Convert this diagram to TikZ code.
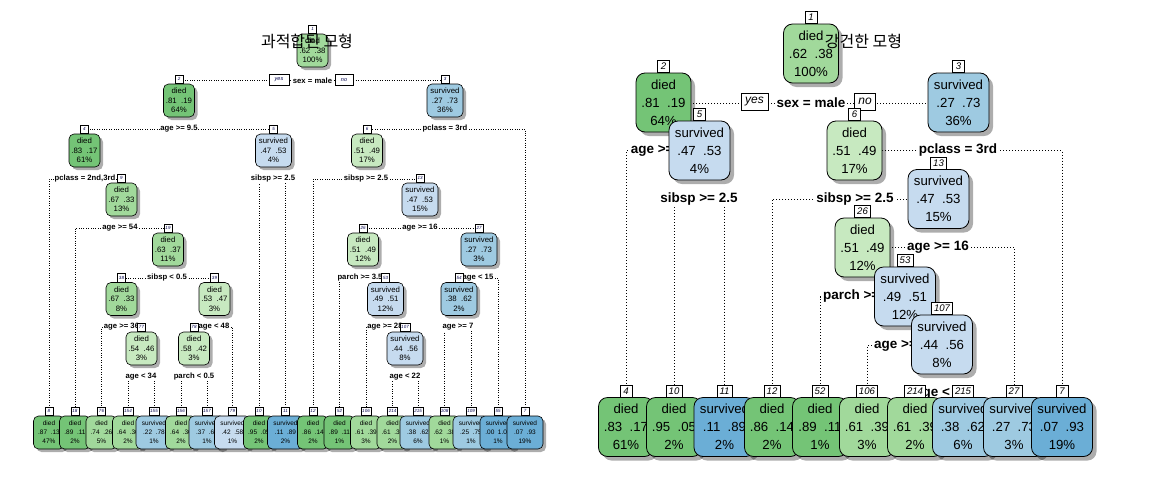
\documentclass[tikz,border=0pt]{standalone}
\usepackage{fontspec}
\setmainfont{Liberation Sans}
\newfontfamily\krfont{Noto Sans CJK KR}
\usetikzlibrary{shadows}
\definecolor{Gd}{HTML}{74C476}
\definecolor{Gm}{HTML}{A1D99B}
\definecolor{Gl}{HTML}{C7E9C0}
\definecolor{Bl}{HTML}{C6DBEF}
\definecolor{Bm}{HTML}{9ECAE1}
\definecolor{Bd}{HTML}{6BAED6}
\pgfdeclarelayer{bg}
\pgfdeclarelayer{lines}
\pgfdeclarelayer{labels}
\pgfsetlayers{bg,lines,labels,main}
\tikzset{
  Rbox/.style={draw=black, line width=0.8pt, rounded corners=9pt, minimum height=59pt, inner sep=0pt, align=center,
    font=\fontsize{13.2}{18}\selectfont,
    drop shadow={shadow xshift=4pt, shadow yshift=-4pt, fill=black, opacity=0.32}},
  Rd/.style={minimum width=55pt},
  Rs/.style={minimum width=61pt},
  Rtag/.style={draw=black, fill=white, line width=0.6pt, inner xsep=2.5pt, inner ysep=0pt, minimum width=12pt, minimum height=12pt, font=\fontsize{9.6}{10}\selectfont\itshape},
  Rlab/.style={fill=white, inner xsep=1pt, inner ysep=1pt, font=\fontsize{13.5}{14}\selectfont\bfseries},
  Ryn/.style={draw=black, fill=white, line width=0.6pt, inner xsep=4pt, inner ysep=0pt, minimum height=17pt, font=\fontsize{12}{12}\selectfont\itshape},
  Rbr/.style={line width=0.9pt, dash pattern=on 0.9pt off 2.1pt},
  Lbox/.style={draw=black, line width=0.6pt, rounded corners=5pt, minimum height=33pt, inner sep=0pt, align=center,
    font=\fontsize{7.8}{9.5}\selectfont,
    drop shadow={shadow xshift=3pt, shadow yshift=-3pt, fill=black, opacity=0.32}},
  Lleaf/.style={Lbox, font=\fontsize{6.5}{9}\selectfont},
  Ld/.style={minimum width=31pt},
  Ls/.style={minimum width=36pt},
  Ltag/.style={draw=black, fill=white, line width=0.5pt, inner xsep=1pt, inner ysep=0pt, minimum width=8pt, minimum height=8.5pt, font=\fontsize{4.5}{5}\selectfont\itshape, text=black!70!blue},
  Llab/.style={fill=white, inner xsep=0.6pt, inner ysep=0.6pt, font=\fontsize{7.7}{8}\selectfont\bfseries},
  Lyn/.style={draw=black, fill=white, line width=0.5pt, inner sep=0pt, minimum height=11pt, font=\fontsize{5.5}{6}\selectfont\itshape, text=black!70!blue},
  Lbr/.style={line width=0.6pt, dash pattern=on 0.6pt off 1.8pt},
  ttl/.style={font=\krfont\fontsize{16}{16}\selectfont}
}
\newcommand\RN[5]{\node[Rbox,#4] (R#1) at (#2,#3) {#5};
  \node[Rtag,anchor=south] (Rt#1) at (R#1.north) {#1};}
\newcommand\LN[5]{\node[Lbox,#4] (L#1) at (#2,#3) {#5};
  \node[Ltag,anchor=south] (Lt#1) at (L#1.north) {#1};}
\newcommand\LF[5]{\node[Lleaf,#4] (L#1) at (#2,#3) {#5};
  \node[Ltag,anchor=south] (Lt#1) at (L#1.north) {#1};}
\newcommand\RL[4]{\node[Rlab] (Rs#1) at (#2,#3) {#4};}
\newcommand\LL[4]{\node[Llab] (Ls#1) at (#2,#3) {#4};}
\begin{document}
\begin{tikzpicture}[x=1pt,y=-1pt]
\begin{pgfonlayer}{bg}
\fill[white] (0,0) rectangle (1152,480);
\end{pgfonlayer}
\useasboundingbox (0,0) rectangle (1152,480);

% ================= LEFT TREE =================
\LN{1}{312.5}{50.5}{Ld,fill=Gm}{died\\.62\ \ .38\\100\%}
\LN{2}{179}{100.5}{Ld,fill=Gd}{died\\.81\ \ .19\\64\%}
\LN{3}{445}{100.5}{Ls,fill=Bm}{survived\\.27\ \ .73\\36\%}
\LN{4}{84.5}{150.5}{Ld,fill=Gd}{died\\.83\ \ .17\\61\%}
\LN{5}{273.5}{150.5}{Ls,fill=Bl}{survived\\.47\ \ .53\\4\%}
\LN{6}{367}{150.5}{Ld,fill=Gl}{died\\.51\ \ .49\\17\%}
\LN{9}{121.5}{199.5}{Ld,fill=Gm}{died\\.67\ \ .33\\13\%}
\LN{13}{420}{199.5}{Ls,fill=Bl}{survived\\.47\ \ .53\\15\%}
\LN{19}{168}{249.5}{Ld,fill=Gm}{died\\.63\ \ .37\\11\%}
\LN{26}{363}{249.5}{Ld,fill=Gl}{died\\.51\ \ .49\\12\%}
\LN{27}{479}{249.5}{Ls,fill=Bm}{survived\\.27\ \ .73\\3\%}
\LN{38}{121.5}{299}{Ld,fill=Gm}{died\\.67\ \ .33\\8\%}
\LN{39}{214.5}{299}{Ld,fill=Gl}{died\\.53\ \ .47\\3\%}
\LN{53}{385.5}{299}{Ls,fill=Bl}{survived\\.49\ \ .51\\12\%}
\LN{54}{459}{299}{Ls,fill=Bm}{survived\\.38\ \ .62\\2\%}
\LN{77}{141.5}{348.5}{Ld,fill=Gl}{died\\.54\ \ .46\\3\%}
\LN{78}{194}{348.5}{Ld,fill=Gl}{died\\.58\ \ .42\\3\%}
\LN{107}{405}{348.5}{Ls,fill=Bl}{survived\\.44\ \ .56\\8\%}
% leaves
\LF{8}{49}{432.5}{Ld,fill=Gd}{died\\.87\ \ .13\\47\%}
\LF{18}{75}{432.5}{Ld,fill=Gd}{died\\.89\ \ .11\\2\%}
\LF{76}{101.5}{432.5}{Ld,fill=Gm}{died\\.74\ \ .26\\5\%}
\LF{154}{128}{432.5}{Ld,fill=Gm}{died\\.64\ \ .36\\2\%}
\LF{155}{154}{432.5}{Ls,fill=Bm}{survived\\.22\ \ .78\\1\%}
\LF{156}{181}{432.5}{Ld,fill=Gm}{died\\.64\ \ .36\\2\%}
\LF{157}{207}{432.5}{Ls,fill=Bm}{survived\\.37\ \ .63\\1\%}
\LF{79}{232.5}{432.5}{Ls,fill=Bl}{survived\\.42\ \ .58\\1\%}
\LF{10}{259}{432.5}{Ld,fill=Gd}{died\\.95\ \ .05\\2\%}
\LF{11}{285.5}{432.5}{Ls,fill=Bd}{survived\\.11\ \ .89\\2\%}
\LF{12}{313}{432.5}{Ld,fill=Gd}{died\\.86\ \ .14\\2\%}
\LF{52}{339.5}{432.5}{Ld,fill=Gd}{died\\.89\ \ .11\\1\%}
\LF{106}{366}{432.5}{Ld,fill=Gm}{died\\.61\ \ .39\\3\%}
\LF{214}{392.5}{432.5}{Ld,fill=Gm}{died\\.61\ \ .39\\2\%}
\LF{215}{418}{432.5}{Ls,fill=Bm}{survived\\.38\ \ .62\\6\%}
\LF{108}{444.5}{432.5}{Ld,fill=Gm}{died\\.62\ \ .38\\1\%}
\LF{109}{471}{432.5}{Ls,fill=Bm}{survived\\.25\ \ .75\\1\%}
\LF{55}{498}{432.5}{Ls,fill=Bd}{survived\\.00\ \ 1.00\\1\%}
\LF{7}{525}{432.5}{Ls,fill=Bd}{survived\\.07\ \ .93\\19\%}

\begin{pgfonlayer}{labels}
\LL{1}{312.5}{80.7}{sex = male}
\node[Lyn,minimum width=20pt] (Lyes) at (279,80) {yes};
\node[Lyn,minimum width=18pt] (Lno) at (344,80) {no};
\LL{2}{179}{129}{age >= 9.5}
\LL{3}{445}{129}{pclass = 3rd}
\LL{4}{85}{179}{pclass = 2nd,3rd}
\LL{5}{273}{179}{sibsp >= 2.5}
\LL{6}{366}{179}{sibsp >= 2.5}
\LL{9}{120}{228}{age >= 54}
\LL{13}{420}{228}{age >= 16}
\LL{19}{167}{278}{sibsp < 0.5}
\LL{26}{360}{278}{parch >= 3.5}
\LL{27}{478}{278}{age < 15}
\LL{38}{121.5}{327}{age >= 36}
\LL{39}{214}{327}{age < 48}
\LL{53}{385}{327}{age >= 28}
\LL{54}{458}{327}{age >= 7}
\LL{77}{141}{377}{age < 34}
\LL{78}{194}{377}{parch < 0.5}
\LL{107}{405}{377}{age < 22}
\end{pgfonlayer}

\begin{pgfonlayer}{lines}
\draw[Lbr] (Ls1.center) -| (L2.center);  \draw[Lbr] (Ls1.center) -| (L3.center);
\draw[Lbr] (Ls2.center) -| (L4.center);  \draw[Lbr] (Ls2.center) -| (L5.center);
\draw[Lbr] (Ls3.center) -| (L6.center);  \draw[Lbr] (Ls3.center) -| (L7.center);
\draw[Lbr] (Ls4.center) -| (L8.center);  \draw[Lbr] (Ls4.center) -| (L9.center);
\draw[Lbr] (Ls5.center) -| (L10.center); \draw[Lbr] (Ls5.center) -| (L11.center);
\draw[Lbr] (Ls6.center) -| (L12.center); \draw[Lbr] (Ls6.center) -| (L13.center);
\draw[Lbr] (Ls9.center) -| (L18.center); \draw[Lbr] (Ls9.center) -| (L19.center);
\draw[Lbr] (Ls13.center) -| (L26.center); \draw[Lbr] (Ls13.center) -| (L27.center);
\draw[Lbr] (Ls19.center) -| (L38.center); \draw[Lbr] (Ls19.center) -| (L39.center);
\draw[Lbr] (Ls26.center) -| (L52.center); \draw[Lbr] (Ls26.center) -| (L53.center);
\draw[Lbr] (Ls27.center) -| (L54.center); \draw[Lbr] (Ls27.center) -| (L55.center);
\draw[Lbr] (Ls38.center) -| (L76.center); \draw[Lbr] (Ls38.center) -| (L77.center);
\draw[Lbr] (Ls39.center) -| (L78.center); \draw[Lbr] (Ls39.center) -| (L79.center);
\draw[Lbr] (Ls53.center) -| (L106.center); \draw[Lbr] (Ls53.center) -| (L107.center);
\draw[Lbr] (Ls54.center) -| (L108.center); \draw[Lbr] (Ls54.center) -| (L109.center);
\draw[Lbr] (Ls77.center) -| (L154.center); \draw[Lbr] (Ls77.center) -| (L155.center);
\draw[Lbr] (Ls78.center) -| (L156.center); \draw[Lbr] (Ls78.center) -| (L157.center);
\draw[Lbr] (Ls107.center) -| (L214.center); \draw[Lbr] (Ls107.center) -| (L215.center);
\end{pgfonlayer}

% ================= RIGHT TREE =================
\RN{1}{811}{53.5}{Rd,fill=Gm}{died\\.62\ \ .38\\100\%}
\RN{2}{663.5}{102.5}{Rd,fill=Gd}{died\\.81\ \ .19\\64\%}
\RN{3}{958.5}{102.5}{Rs,fill=Bm}{survived\\.27\ \ .73\\36\%}
\RN{5}{699.5}{150.5}{Rs,fill=Bl}{survived\\.47\ \ .53\\4\%}
\RN{6}{854.5}{150.5}{Rd,fill=Gl}{died\\.51\ \ .49\\17\%}
\RN{13}{938.5}{199}{Rs,fill=Bl}{survived\\.47\ \ .53\\15\%}
\RN{26}{862.5}{247.5}{Rd,fill=Gl}{died\\.51\ \ .49\\12\%}
\RN{53}{905}{296.5}{Rs,fill=Bl}{survived\\.49\ \ .51\\12\%}
\RN{107}{942}{344.5}{Rs,fill=Bl}{survived\\.44\ \ .56\\8\%}
% leaves
\RN{4}{626}{427}{Rd,fill=Gd}{died\\.83\ \ .17\\61\%}
\RN{10}{674}{427}{Rd,fill=Gd}{died\\.95\ \ .05\\2\%}
\RN{11}{724.5}{427}{Rs,fill=Bd}{survived\\.11\ \ .89\\2\%}
\RN{12}{772}{427}{Rd,fill=Gd}{died\\.86\ \ .14\\2\%}
\RN{52}{820}{427}{Rd,fill=Gd}{died\\.89\ \ .11\\1\%}
\RN{106}{867}{427}{Rd,fill=Gm}{died\\.61\ \ .39\\3\%}
\RN{214}{915}{427}{Rd,fill=Gm}{died\\.61\ \ .39\\2\%}
\RN{215}{963}{427}{Rs,fill=Bm}{survived\\.38\ \ .62\\6\%}
\RN{27}{1014}{427}{Rs,fill=Bm}{survived\\.27\ \ .73\\3\%}
\RN{7}{1062}{427}{Rs,fill=Bd}{survived\\.07\ \ .93\\19\%}

\begin{pgfonlayer}{labels}
\RL{1}{811}{103}{sex = male}
\node[Ryn] (Ryes) at (754.5,101.5) {yes};
\node[Ryn] (Rno) at (865,101.5) {no};
\RL{2}{663.5}{150.5}{age >= 9.5}
\RL{3}{958}{150.5}{pclass = 3rd}
\RL{5}{699}{199}{sibsp >= 2.5}
\RL{6}{855}{199}{sibsp >= 2.5}
\RL{13}{938}{247}{age >= 16}
\RL{26}{862.5}{296.5}{parch >= 3.5}
\RL{53}{905}{345.5}{age >= 28}
\RL{107}{942}{393}{age < 22}
\end{pgfonlayer}

\begin{pgfonlayer}{lines}
\draw[Rbr] (Rs1.center) -| (R2.center);  \draw[Rbr] (Rs1.center) -| (R3.center);
\draw[Rbr] (Rs2.center) -| (R4.center);  \draw[Rbr] (Rs2.center) -| (R5.center);
\draw[Rbr] (Rs5.center) -| (R10.center); \draw[Rbr] (Rs5.center) -| (R11.center);
\draw[Rbr] (Rs3.center) -| (R6.center);  \draw[Rbr] (Rs3.center) -| (R7.center);
\draw[Rbr] (Rs6.center) -| (R12.center); \draw[Rbr] (Rs6.center) -| (R13.center);
\draw[Rbr] (Rs13.center) -| (R26.center); \draw[Rbr] (Rs13.center) -| (R27.center);
\draw[Rbr] (Rs26.center) -| (R52.center); \draw[Rbr] (Rs26.center) -| (R53.center);
\draw[Rbr] (Rs53.center) -| (R106.center); \draw[Rbr] (Rs53.center) -| (R107.center);
\draw[Rbr] (Rs107.center) -| (R214.center); \draw[Rbr] (Rs107.center) -| (R215.center);
\end{pgfonlayer}

% titles
\node[ttl] (Ltitle) at (307,41) {과적합된 모형};
\node[ttl] (Rtitle) at (863.5,41) {강건한 모형};
\end{tikzpicture}
\end{document}
